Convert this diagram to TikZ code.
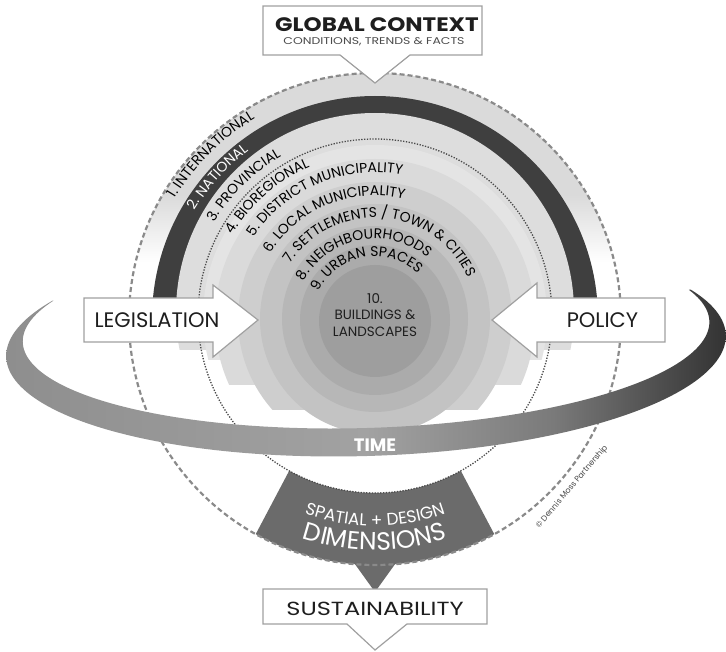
\documentclass[tikz,border=0pt]{standalone}
\usepackage{fontspec}
\setmainfont{Poppins}
\newfontfamily\wideA[FakeStretch=1.18]{Poppins}
\newfontfamily\wideB[FakeStretch=1.27]{Poppins}
\usetikzlibrary{decorations.text}
\definecolor{bandA}{HTML}{DADADA}
\definecolor{bandB}{HTML}{3F3F3F}
\definecolor{bandC}{HTML}{DDDDDD}
\definecolor{bandD}{HTML}{E4E4E4}
\definecolor{discE}{HTML}{DADADA}
\definecolor{discF}{HTML}{CECECE}
\definecolor{discG}{HTML}{C3C3C3}
\definecolor{discH}{HTML}{B7B7B7}
\definecolor{discI}{HTML}{ABABAB}
\definecolor{discJ}{HTML}{9E9E9E}
\definecolor{trapgray}{HTML}{6B6B6B}
\definecolor{boxline}{HTML}{A0A0A0}
\definecolor{dashgray}{HTML}{8A8A8A}
\definecolor{dotgray}{HTML}{4A4A4A}
\definecolor{txtdark}{HTML}{1E1E1E}
\definecolor{tA}{HTML}{8E8E8E}
\definecolor{tB}{HTML}{A2A2A2}
\definecolor{tC}{HTML}{7A7A7A}
\definecolor{tD}{HTML}{333333}
\pgfdeclarehorizontalshading{timeshade}{100bp}{color(0bp)=(tA); color(25bp)=(tA); color(50bp)=(tB); color(63bp)=(tC); color(75bp)=(tD); color(100bp)=(tD)}
\newcommand\lblfont{\fontsize{14}{14}\selectfont}
\newcommand\spfont{\fontsize{17}{17}\selectfont}
\newcommand\dimfont{\fontsize{25}{25}\selectfont}
\begin{document}
\begin{tikzpicture}[x=1pt,y=-1pt,
  dashcirc/.style={draw=dashgray,line width=2.2pt,dash pattern=on 5pt off 3pt},
  dotcirc/.style={draw=dotgray,line width=1.3pt,dash pattern=on 1.3pt off 1.5pt},
  boxshape/.style={fill=white,draw=boxline,line width=1.2pt,line join=miter},
  ringlabel/.style={decorate,decoration={text along path,text align=left,text={|\lblfont|#1}}},
  whitelabel/.style={decorate,decoration={text along path,text align=left,text color=white,text={|\lblfont|#1}}},
  bigtext/.style={text=txtdark,inner sep=0pt,font=\fontsize{21}{21}\selectfont}
]
\useasboundingbox (0,0) rectangle (726,652);
\fill[white] (0,0) rectangle (726,652);

% ---- bands (upper rings) ----
\begin{scope}
  \clip (375,319) circle[radius=246];
  \fill[bandA] (0,0) rectangle (726,195);
  \shade[top color=bandA,bottom color=white] (0,194.5) rectangle (726,262);
\end{scope}
\begin{scope}
  \clip (0,0) rectangle (726,342);
  \fill[bandB] (375,319) circle[radius=223];
\end{scope}
\begin{scope}
  \clip (0,0) rectangle (726,350);
  \fill[bandC] (375,312) circle[radius=199];
\end{scope}
\begin{scope}
  \clip (0,0) rectangle (726,360);
  \fill[bandD] (375,317) circle[radius=172];
\end{scope}
\begin{scope}
  \clip (0,0) rectangle (726,385);
  \fill[discE] (375,319) circle[radius=160];
\end{scope}
\begin{scope}
  \clip (0,0) rectangle (726,410);
  \fill[discF] (375,319) circle[radius=137];
\end{scope}
\begin{scope}
  \clip (0,0) rectangle (726,428);
  \fill[discG] (375,319) circle[radius=115];
\end{scope}
\fill[discH] (375,319) circle[radius=93];
\fill[discI] (375,320) circle[radius=75];
\fill[discJ] (375,321) circle[radius=56];

% ---- spatial + design dimensions ----
\fill[trapgray] (375,316) ++(61:177) arc[start angle=61,end angle=119,radius=177]
   -- ([shift={(119:246)}]375,319) arc[start angle=119,end angle=61,radius=246] -- cycle;
\fill[trapgray] (352,560) -- (398,560) -- (375,592) -- cycle;

% ---- circles ----
\draw[dashcirc] (375,319) circle[radius=246];
\draw[dotcirc] (375,316) circle[radius=177];

% ---- ring labels ----
\path[ringlabel={1. INTERNATIONAL}] (375,319) ++(211:233.5) arc[start angle=211,end angle=330,radius=233.5];
\path[whitelabel={2. NATIONAL}] (375,319) ++(211:210.5) arc[start angle=211,end angle=330,radius=210.5];
\path[ringlabel={3. PROVINCIAL}] (375,319) ++(211:187.5) arc[start angle=211,end angle=330,radius=187.5];
\path[ringlabel={4. BIOREGIONAL}] (375,319) ++(210.5:165.5) arc[start angle=210.5,end angle=330,radius=165.5];
\path[ringlabel={5. DISTRICT MUNICIPALITY}] (375,319) ++(214:146.5) arc[start angle=214,end angle=350,radius=146.5];
\path[ringlabel={6. LOCAL MUNICIPALITY}] (375,319) ++(212:123.5) arc[start angle=212,end angle=350,radius=123.5];
\path[ringlabel={7. SETTLEMENTS / TOWN {\&} CITIES}] (375,319) ++(213:101.5) arc[start angle=213,end angle=370,radius=101.5];
\path[ringlabel={8. NEIGHBOURHOODS}] (375,319) ++(208:80.5) arc[start angle=208,end angle=345,radius=80.5];
\path[ringlabel={9. URBAN SPACES}] (375,319) ++(206:62.5) arc[start angle=206,end angle=345,radius=62.5];

\node[text=txtdark,align=center,font=\fontsize{13.5}{16.5}\selectfont] (core) at (375,315) {10.\\BUILDINGS \&\\LANDSCAPES};

% ---- legislation / policy arrows ----
\draw[boxshape] (84,298) -- (213,298) -- (213,285) -- (258,320) -- (213,357) -- (213,342) -- (84,342) -- cycle;
\node[bigtext] (leg) at (157,320.5) {LEGISLATION};
\draw[boxshape] (665,298) -- (537,298) -- (537,283) -- (492,320) -- (537,357) -- (537,342) -- (665,342) -- cycle;
\node[bigtext] (pol) at (602.5,320.5) {POLICY};

% ---- time ring ----
\begin{scope}[shift={(366,346)},rotate=1.75]
  \shade[shading=timeshade]
    plot[domain=210:-25,samples=140,variable=\t] ({360*cos(\t)},{110*sin(\t)})
    -- plot[domain=-19.4:204.9,samples=140,variable=\s] ({0.5+343.5*cos(\s)},{-14.3+96.3*sin(\s)})
    -- cycle;
\end{scope}
\node[text=white,font=\fontsize{18}{18}\selectfont\bfseries] (time) at (375,445) {TIME};

% ---- spatial + design text ----
\path[decorate,decoration={text along path,text align=center,text color=white,text={|\spfont|SPATIAL + DESIGN}}]
   (375,319) ++(125:207) arc[start angle=125,end angle=55,radius=207];
\path[decorate,decoration={text along path,text align=center,text color=white,text={|\dimfont|DIMENSIONS}}]
   (375,319) ++(120:231) arc[start angle=120,end angle=60,radius=231];

% ---- global context box ----
\draw[boxshape] (263,6) -- (482,6) -- (482,55) -- (410,55) -- (375,83) -- (340,55) -- (263,55) -- cycle;
\node[text=txtdark,font=\wideA\fontsize{19.5}{19.5}\selectfont\bfseries] (glob) at (377,25) {GLOBAL CONTEXT};
\node[text=txtdark!80,font=\wideB\fontsize{9.8}{9.8}\selectfont] (globsub) at (374,42) {CONDITIONS, TRENDS \& FACTS};

% ---- sustainability box ----
\draw[boxshape] (263,589) -- (487,589) -- (487,624) -- (407,624) -- (375,650) -- (347,624) -- (263,624) -- cycle;
\node[text=txtdark,inner sep=0pt,font=\wideB\fontsize{19}{19}\selectfont] (sust) at (375,608.5) {SUSTAINABILITY};

% ---- copyright ----
\node[rotate=49.6,text=dotgray,font=\fontsize{8}{8}\selectfont] (copy) at (572,487) {© Dennis Moss Partnership};
\end{tikzpicture}
\end{document}
